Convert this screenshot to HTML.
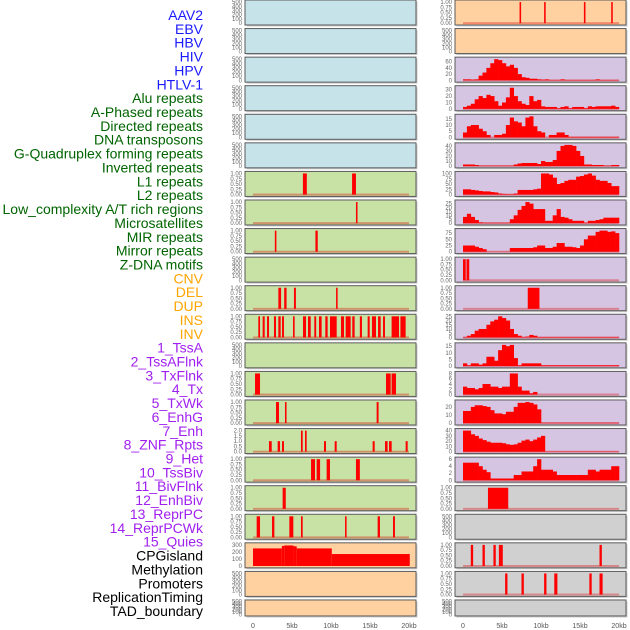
<!DOCTYPE html>
<html><head><meta charset="utf-8">
<style>
body{margin:0;background:#fff;width:630px;height:630px;overflow:hidden}
svg{display:block}
text{font-family:"Liberation Sans",sans-serif}
</style></head>
<body>
<svg id="chart" width="630" height="630" viewBox="0 0 630 630"></svg>
<script>
// ---------- data ----------
const trackLabels=["AAV2","EBV","HBV","HIV","HPV","HTLV-1","Alu repeats","A-Phased repeats","Directed repeats","DNA transposons","G-Quadruplex forming repeats","Inverted repeats","L1 repeats","L2 repeats","Low_complexity A/T rich regions","Microsatellites","MIR repeats","Mirror repeats","Z-DNA motifs","CNV","DEL","DUP","INS","INV","1_TssA","2_TssAFlnk","3_TxFlnk","4_Tx","5_TxWk","6_EnhG","7_Enh","8_ZNF_Rpts","9_Het","10_TssBiv","11_BivFlnk","12_EnhBiv","13_ReprPC","14_ReprPCWk","15_Quies","CPGisland","Methylation","Promoters","ReplicationTiming","TAD_boundary"];
const labelColors=["#1a1aff","#1a1aff","#1a1aff","#1a1aff","#1a1aff","#1a1aff","#006400","#006400","#006400","#006400","#006400","#006400","#006400","#006400","#006400","#006400","#006400","#006400","#006400","#ffa500","#ffa500","#ffa500","#ffa500","#ffa500","#a020f0","#a020f0","#a020f0","#a020f0","#a020f0","#a020f0","#a020f0","#a020f0","#a020f0","#a020f0","#a020f0","#a020f0","#a020f0","#a020f0","#a020f0","#000","#000","#000","#000","#000"];
const xTickValues=[0,5,10,15,20];
const xTickLabels=["0","5kb","10kb","15kb","20kb"];

// histogram counts (0.5kb bins, 0-20kb)
const hivCounts=[3,3,2,3,15,25,40,55,68,65,55,45,50,40,20,10,8,5,5,3,2,3,1,1,1,3,1,1,1,1,1,1,1,1,3,1,1,1,1,1];
const aluCounts=[3,5,8,15,20,17,22,20,12,5,10,18,33,20,12,8,6,20,12,14,4,3,3,3,1,3,4,1,3,3,3,1,4,3,4,4,4,4,5,3];
const directedCounts=[4,9,10,10,7,5,2,0,2,2,3,10,16,13,12,9,16,17,9,5,4,0,2,2,4,4,2,0.5,0.5,0.5,0.5,0.5,0.5,0.5,0.5,0.5,0.5,0.5,0.5,0.5];
const gquadCounts=[3,3,3,2,0.5,0.5,0.5,0.5,0.5,0.5,0.5,0.5,0.5,3,5,6,6,6,6,4,10,8,8,12,30,40,42,42,40,30,20,3,3,2,2,2,0.5,0.5,2,2];
const l1Counts=[25,25,22,20,17,15,15,12,10,5,3,2,2,5,22,22,22,22,25,28,100,100,95,80,50,55,65,70,70,85,88,95,100,90,70,65,65,55,40,40];
const l2Counts=[8,12,8,4,1,0.5,0.5,0.5,0.5,0.5,0.5,0.5,5,10,17,22,27,25,18,18,18,3,3,10,18,8,7,5,3,3,3,0.5,3,3,4,5,7,7,7,7];
const mirCounts=[25,25,25,20,15,10,0.5,0.5,0.5,0.5,0.5,0.5,15,15,15,15,15,15,18,25,25,15,15,20,35,35,20,20,18,15,25,50,65,65,80,85,85,80,82,75];
const tssaCounts=[0.5,2,4,8,10,10,15,19,21,25,23,20,10,4,2,0.5,1,3,2,0.5,0.5,0.5,0.5,0.5,0.5,0.5,0.5,0.5,0.5,0.5,0.5,0.5,0.5,0.5,0.5,0.5,0.5,0.5,0.5,0.5];
const tssaflnkCounts=[2,0.5,2,2,1,2,7,7,4,12,16,15,16,6,0.5,2,2,2,2,2,0.5,0.5,0.5,0.5,0.5,0.5,0.5,0.5,0.5,0.5,0.5,0.5,0.5,0.5,0.5,0.5,0.5,0.5,0.5,0.5];
const txflnkCounts=[3,2.5,2.5,2,2.5,4,4,3,3,2.5,3,3,8,8,3,1.5,1.5,0.5,1,0,0,0,0,0,0,0,0,0,0,0,0,0,0,0,0,0,0,0,0,0];
const txCounts=[15,15,20,22,22,21,20,16,12,12,11,14,14,20,25,25,26,25,23,17,0.5,0.5,0.5,0.5,0.5,0.5,0.5,0.5,0.5,0.5,0.5,0.5,0.5,0.5,0.5,0.5,0.5,0.5,0.5,0.5];
const txwkCounts=[40,40,33,30,25,22,19,17,17,17,16,14,13,14,17,21,23,20,23,27,30,0.5,0.5,0.5,0.5,0.5,0.5,0.5,0.5,0.5,0.5,0.5,0.5,0.5,0.5,0.5,0.5,0.5,0.5,0.5];
const enhgCounts=[5,5,5,5,4,3,2.3,0.5,0.5,0.5,0.5,0.5,0.5,1.5,1.5,2.5,2.5,2.5,4,6,3,3,3,2.5,1.5,1.5,1.5,1.5,1.5,1.5,1.5,1.5,3,3,2.5,3,3,3,4,4];

// interval tracks [startKb, endKb, value]
const aav2Sites=[[7.25,7.45,1],[10.4,10.6,1],[15.5,15.7,1],[19.0,19.2,1]];
const cnvSites=[[0.0,0.35,1],[0.45,0.8,1]];
const delSites=[[8.3,9.8,1]];
const hetSites=[[3.2,5.8,1]];
const promoterSitesR=[[1.0,1.3,1],[2.5,2.8,1],[3.9,4.2,1],[4.6,5.1,1],[17.5,17.8,1]];
const replSitesR=[[5.4,5.7,1],[7.5,7.8,1],[10.4,10.7,1],[11.7,12.1,1],[16.2,16.5,1],[17.5,17.9,1]];
const l1SitesL=[[6.4,6.9,1],[12.7,13.2,1]];
const l2SitesL=[[13.2,13.4,1]];
const mirSitesL=[[2.8,3.0,1],[8.0,8.3,1]];
const cnvSitesL=[[3.25,3.6,1],[4.0,4.3,1],[5.25,5.5,1],[10.65,10.85,1]];
const insSitesL=[[0.68,0.9,1],[1.24,1.5,1],[1.8,2.05,1],[2.69,2.95,1],[3.25,3.55,1],[3.72,3.97,1],[5.13,5.34,1],[6.41,6.8,1],[7.05,7.4,1],[7.86,8.1,1],[8.46,8.8,1],[9.27,9.57,1],[9.87,10.73,1],[11.28,11.67,1],[11.88,12.52,1],[12.73,13.03,1],[13.7,13.97,1],[14.7,14.96,1],[15.25,15.77,1],[16.03,16.37,1],[16.67,16.92,1],[17.77,18.72,1],[18.9,19.57,1]];
const txflnkSitesL=[[0.26,0.9,1],[17.05,17.65,1],[17.77,18.33,1]];
const txSitesL=[[2.95,3.33,1],[4.1,4.3,1],[15.85,16.1,1]];
const znfSitesL=[[2.05,2.4,1],[3.16,3.46,1],[3.72,3.97,1],[6.15,6.37,2],[6.67,6.88,2],[9.1,9.36,1],[10.47,10.73,1],[15.34,15.6,1],[16.92,17.26,1],[17.44,17.78,1],[19.57,19.83,1]];
const hetSitesL=[[7.44,7.95,1],[8.16,8.6,1],[9.44,9.87,1],[13.2,13.7,1]];
const tssbivSitesL=[[3.8,4.2,1]];
const bivflnkSitesL=[[0.47,0.9,1],[2.44,2.74,1],[4.66,5.17,1],[6.15,6.37,1],[11.8,12.0,1],[15.98,16.28,1],[17.95,18.2,1]];
const cpgSteps=[[0,3.7,250],[3.7,4.0,285],[4.0,5.2,292],[5.2,5.6,280],[5.6,10.1,250],[10.1,20.1,170]];

const tickEmpty=[0,100,200,300,400,500];
const tickUnit=[0,0.25,0.5,0.75,1];

// ---------- layout ----------
const BLUE="#c6e3ea",GREEN="#c8e1a5",PEACH="#ffd1a1",LAV="#d6c5e2",GRAY="#d0d0d0";
const leftPanels=[
 [BLUE,"empty"],[BLUE,"empty"],[BLUE,"empty"],[BLUE,"empty"],[BLUE,"empty"],[BLUE,"empty"],
 [GREEN,"iv",l1SitesL,tickUnit],[GREEN,"iv",l2SitesL,tickUnit],[GREEN,"iv",mirSitesL,tickUnit],[GREEN,"empty"],
 [GREEN,"iv",cnvSitesL,tickUnit],[GREEN,"iv",insSitesL,tickUnit],[GREEN,"empty"],
 [GREEN,"iv",txflnkSitesL,tickUnit],[GREEN,"iv",txSitesL,tickUnit],[GREEN,"iv",znfSitesL,[0,0.5,1,1.5,2]],
 [GREEN,"iv",hetSitesL,tickUnit],[GREEN,"iv",tssbivSitesL,tickUnit],[GREEN,"iv",bivflnkSitesL,tickUnit],
 [PEACH,"iv",cpgSteps,[0,100,200,300],true],[PEACH,"empty"],[PEACH,"empty"]];
const rightPanels=[
 [PEACH,"iv",aav2Sites,tickUnit],[PEACH,"empty"],
 [LAV,"hist",hivCounts,[0,20,40,60]],[LAV,"hist",aluCounts,[0,10,20,30]],[LAV,"hist",directedCounts,[0,5,10,15]],
 [LAV,"hist",gquadCounts,[0,10,20,30,40]],[LAV,"hist",l1Counts,[0,25,50,75,100]],[LAV,"hist",l2Counts,[0,5,10,15,20,25]],
 [LAV,"hist",mirCounts,[0,25,50,75]],[LAV,"iv",cnvSites,tickUnit],[LAV,"iv",delSites,tickUnit],
 [LAV,"hist",tssaCounts,[0,5,10,15,20,25]],[LAV,"hist",tssaflnkCounts,[0,5,10,15]],[LAV,"hist",txflnkCounts,[0,2,4,6,8]],
 [LAV,"hist",txCounts,[0,10,20]],[LAV,"hist",txwkCounts,[0,10,20,30,40]],[LAV,"hist",enhgCounts,[0,2,4,6]],
 [GRAY,"iv",hetSites,tickUnit],[GRAY,"empty"],[GRAY,"iv",promoterSitesR,tickUnit],[GRAY,"iv",replSitesR,tickUnit],[GRAY,"empty"]];

const NS="http://www.w3.org/2000/svg";
const svg=document.getElementById("chart");
function mk(tag,attrs,parent){const e=document.createElementNS(NS,tag);for(const k in attrs)e.setAttribute(k,attrs[k]);(parent||svg).appendChild(e);return e;}

// labels
trackLabels.forEach((t,i)=>{
  const e=mk("text",{x:203,y:15+i*13.86+5,"text-anchor":"end","font-size":"14",fill:labelColors[i]});
  e.textContent=t;
  
  
});

function fmt(v,ticks){
  const unit=ticks[ticks.length-1]===1;
  if(unit) return v.toFixed(2);
  if(ticks[ticks.length-1]===2) return v.toFixed(1);
  return String(v);
}

function drawPanel(p,col,row){
  const x0=col===0?245:455, w=171;
  const top=row*28.57, h=row===21?16:25;
  const g=mk("g",{});
  
  
  mk("rect",{x:x0+1.5,y:top+1.5,width:w,height:h,fill:"#999",opacity:0.5},g);
  mk("rect",{x:x0,y:top,width:w,height:h,fill:p[0],stroke:"#5a5a5a","stroke-width":1},g);
  const dx0=x0+8, kbScale=7.8;
  const xs=kb=>dx0+kb*kbScale;
  let ticks=p[3]||tickEmpty;
  if(p[1]==="empty") ticks=tickEmpty;
  const M=ticks[ticks.length-1];
  let maxV=M;
  if(p[1]==="hist") maxV=Math.max(...p[2]);
  if(p[4]) maxV=300;
  const lo=-0.04*maxV, hi=maxV*1.05;
  const ys=v=>top+h-1-(v-lo)/(hi-lo)*(h-2);
  ticks.forEach(t=>{
    const e=mk("text",{x:x0-3,y:ys(t)+2,"text-anchor":"end","font-size":"6",fill:"#666"},g);
    e.textContent=fmt(t,ticks);
    
    
  });
  if(p[1]==="empty") return;
  if(!p[4]) mk("rect",{x:xs(0),y:ys(0)-1,width:xs(20)-xs(0),height:2,fill:"#e00000",opacity:0.35},g);
  if(p[1]==="hist"){
    p[2].forEach((v,i)=>{
      if(v<=0)return;
      const b=mk("rect",{x:xs(i*0.5),y:ys(v),width:kbScale*0.5+0.3,height:ys(0)-ys(v),fill:"#ff0000"},g);
      
      
    });
  } else {
    p[2].forEach(iv=>{
      const b=mk("rect",{x:xs(iv[0]),y:ys(iv[2]),width:Math.max(1.2,xs(iv[1])-xs(iv[0])),height:ys(0)-ys(iv[2]),fill:"#ff0000"},g);
      
      
    });
  }
}
leftPanels.forEach((p,i)=>drawPanel(p,0,i));
rightPanels.forEach((p,i)=>drawPanel(p,1,i));

// x axes
[253,463].forEach(base=>{
  xTickValues.forEach((v,i)=>{
    const e=mk("text",{x:base+v*7.8,y:628,"text-anchor":"middle","font-size":"7",fill:"#555"});
    e.textContent=xTickLabels[i];
    
    
  });
});
</script>
</body></html>
